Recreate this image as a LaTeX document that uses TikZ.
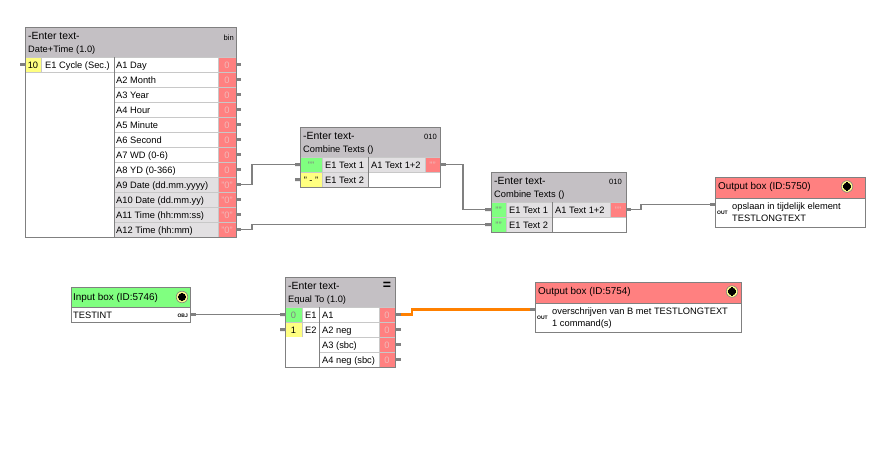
\documentclass[tikz,border=0pt]{standalone}
\usepackage{fontspec}
\setmainfont{Liberation Sans}

\definecolor{hdrgray}{RGB}{196,192,196}
\definecolor{valred}{RGB}{255,128,128}
\definecolor{valtext}{RGB}{240,186,186}
\definecolor{ingreen}{RGB}{128,255,128}
\definecolor{inyellow}{RGB}{255,255,128}
\definecolor{dotgray}{RGB}{226,224,226}
\definecolor{framegray}{RGB}{128,128,128}
\definecolor{gridgray}{RGB}{200,200,200}
\definecolor{wireorange}{RGB}{255,128,0}
\definecolor{iconyellow}{RGB}{255,255,140}

\newcommand{\cellfont}{\fontsize{9.3}{11}\selectfont}
\newcommand{\titlefont}{\fontsize{10.4}{12}\selectfont}
\newcommand{\boxfont}{\fontsize{9.9}{12}\selectfont}
\newcommand{\tagfont}{\fontsize{7.6}{9}\selectfont}
\newcommand{\portfont}{\fontsize{5}{6}\bfseries\selectfont}

\tikzset{
    frame/.style={draw=framegray, line width=1pt},
    grid/.style={draw=gridgray, line width=0.8pt},
    wire/.style={draw=framegray, line width=1.3pt},
    hotwire/.style={draw=wireorange, line width=2.8pt},
    stub/.style={fill=framegray},
    txt/.style={anchor=base west, inner sep=0pt, font=\cellfont},
    val/.style={anchor=base, inner sep=0pt, font=\cellfont},
    title/.style={anchor=base west, inner sep=0pt, font=\titlefont},
    boxtitle/.style={anchor=base west, inner sep=0pt, font=\boxfont},
    tag/.style={anchor=base east, inner sep=0pt, font=\tagfont},
    port/.style={anchor=base west, inner sep=0pt, font=\portfont},
}

\begin{document}
\begin{tikzpicture}[x=1pt, y=-1pt]

    % Fix the canvas to the size of the reference
    \fill[white] (0,0) rectangle (890,451);
    \useasboundingbox (0,0) rectangle (890,451);

    % ---------------- Date+Time block ----------------
    % Draw the header and the coloured cells
    \fill[hdrgray] (25,27) rectangle (236,57);
    \fill[inyellow] (25,57) rectangle (41,72);
    \fill[dotgray] (114,177) rectangle (218,237);
    \fill[valred] (218,57) rectangle (236,237);

    % Draw the grid lines and the frame
    \foreach \y in {57,72,...,222} \draw[grid] (114,\y) -- (236,\y);
    \draw[grid] (25,57) -- (114,57) (25,72) -- (114,72);
    \draw[grid] (41,57) -- (41,72) (218,57) -- (218,237);
    \draw[frame] (114,57) -- (114,237);
    \draw[frame] (25,27) rectangle (236,237);

    % Label the header
    \node[title] (dt-title) at (28,39.5) {-Enter text-};
    \node[txt] (dt-sub) at (28,52.5) {Date+Time (1.0)};
    \node[tag] (dt-tag) at (234,40) {bin};

    % Label the input row
    \fill[stub] (20,63) rectangle (25,66);
    \node[val] (dt-e1v) at (33,68.5) {10};
    \node[txt] (dt-e1) at (45,68.5) {E1 Cycle (Sec.)};

    % Label the output rows, their values and stubs
    \foreach \lab/\val [count=\i] in {A1 Day/0, A2 Month/0, A3 Year/0, A4 Hour/0,
        A5 Minute/0, A6 Second/0, A7 WD (0-6)/0, A8 YD (0-366)/0,
        A9 Date (dd.mm.yyyy)/"0", A10 Date (dd.mm.yy)/"0",
        A11 Time (hh:mm:ss)/"0", A12 Time (hh:mm)/"0"} {
        \pgfmathsetmacro{\yb}{57+15*\i-3.5}
        \pgfmathsetmacro{\ym}{57+15*\i-7.5}
        \node[txt] (dt-a\i) at (116,\yb) {\lab};
        \node[val, text=valtext] (dt-v\i) at (227,\yb) {\val};
        \fill[stub] (236,\ym-1.5) rectangle (241,\ym+1.5);
        \coordinate (dt-o\i) at (241,\ym);
    }

    % ---------------- first Combine Texts block ----------------
    \fill[hdrgray] (300,127) rectangle (440,157);
    \fill[ingreen] (300,157) rectangle (322,172);
    \fill[inyellow] (300,172) rectangle (322,187);
    \fill[dotgray] (322,157) rectangle (368,187) (368,157) rectangle (425,172);
    \fill[valred] (425,157) rectangle (440,172);
    \draw[grid] (300,157) -- (440,157) (300,172) -- (440,172);
    \draw[grid] (322,157) -- (322,187) (425,157) -- (425,172);
    \draw[frame] (368,157) -- (368,187);
    \draw[frame] (300,127) rectangle (440,187);

    \node[title] (ct1-title) at (303,139.5) {-Enter text-};
    \node[txt] (ct1-sub) at (303,152.5) {Combine Texts ()};
    \node[tag] (ct1-tag) at (437,139.5) {010};
    \node[val, text=framegray] (ct1-e1v) at (311,168.5) {""};
    \node[val] (ct1-e2v) at (311,183.5) {" - "};
    \node[txt] (ct1-e1) at (325,168.5) {E1 Text 1};
    \node[txt] (ct1-e2) at (325,183.5) {E1 Text 2};
    \node[txt] (ct1-a1) at (371,168.5) {A1 Text 1+2};
    \node[val, text=valtext] (ct1-a1v) at (432.5,168.5) {""};

    \fill[stub] (295,163) rectangle (300,166) (295,178) rectangle (300,181);
    \fill[stub] (440,163) rectangle (446,166);
    \coordinate (ct1-i1) at (295,164.5);
    \coordinate (ct1-i2) at (295,179.5);
    \coordinate (ct1-o1) at (446,164.5);

    % ---------------- second Combine Texts block ----------------
    \fill[hdrgray] (491,172) rectangle (626,202);
    \fill[ingreen] (491,202) rectangle (506,232);
    \fill[dotgray] (506,202) rectangle (552,232) (552,202) rectangle (610,217);
    \fill[valred] (610,202) rectangle (626,217);
    \draw[grid] (491,202) -- (626,202) (491,217) -- (626,217);
    \draw[grid] (506,202) -- (506,232) (610,202) -- (610,217);
    \draw[frame] (552,202) -- (552,232);
    \draw[frame] (491,172) rectangle (626,232);

    \node[title] (ct2-title) at (494,184.5) {-Enter text-};
    \node[txt] (ct2-sub) at (494,197.5) {Combine Texts ()};
    \node[tag] (ct2-tag) at (622,184.5) {010};
    \node[val, text=framegray] (ct2-e1v) at (498.5,213.5) {""};
    \node[val, text=framegray] (ct2-e2v) at (498.5,228.5) {""};
    \node[txt] (ct2-e1) at (509,213.5) {E1 Text 1};
    \node[txt] (ct2-e2) at (509,228.5) {E1 Text 2};
    \node[txt] (ct2-a1) at (555,213.5) {A1 Text 1+2};
    \node[val, text=valtext] (ct2-a1v) at (618,213.5) {""};

    \fill[stub] (485,208) rectangle (491,211) (485,223) rectangle (491,226);
    \fill[stub] (626,208) rectangle (631,211);
    \coordinate (ct2-i1) at (485,209.5);
    \coordinate (ct2-i2) at (485,224.5);
    \coordinate (ct2-o1) at (631,209.5);

    % ---------------- Output box 5750 ----------------
    \fill[valred] (715,177) rectangle (865,198);
    \draw[frame] (715,177) rectangle (865,227) (715,198) -- (865,198);
    \node[boxtitle] (ob1-title) at (718,189.5) {Output box (ID:5750)};
    \coordinate (ob1-icon) at (847,186.5);
    \node[port] (ob1-port) at (717,214.5) {OUT};
    \node[txt] (ob1-l1) at (732,209.3) {opslaan in tijdelijk element};
    \node[txt] (ob1-l2) at (732,221.5) {TESTLONGTEXT};
    \fill[stub] (710,203) rectangle (715,206);
    \coordinate (ob1-in) at (710,204.5);

    % ---------------- Input box 5746 ----------------
    \fill[ingreen] (71,287) rectangle (190,307);
    \draw[frame] (71,287) rectangle (190,322) (71,307) -- (190,307);
    \node[boxtitle] (ib-title) at (73,300) {Input box (ID:5746)};
    \coordinate (ib-icon) at (182,297);
    \node[txt] (ib-l1) at (73,318.5) {TESTINT};
    \node[port, anchor=base east] (ib-port) at (188,317.5) {OBJ};
    \fill[stub] (190,313) rectangle (196,316);
    \coordinate (ib-out) at (196,314.5);

    % ---------------- Equal To block ----------------
    \fill[hdrgray] (285,277) rectangle (395,307);
    \fill[ingreen] (285,307) rectangle (302,322);
    \fill[inyellow] (285,322) rectangle (302,337);
    \fill[valred] (379,307) rectangle (395,367);
    \draw[grid] (285,307) -- (395,307) (285,322) -- (395,322);
    \draw[grid] (319,337) -- (395,337) (319,352) -- (395,352);
    \draw[grid] (302,307) -- (302,337) (379,307) -- (379,367);
    \draw[frame] (319,307) -- (319,367);
    \draw[frame] (285,277) rectangle (395,367);

    \node[title] (eq-title) at (288,289.5) {-Enter text-};
    \node[txt] (eq-sub) at (288,302.5) {Equal To (1.0)};
    \node[inner sep=0pt, font=\fontsize{14}{14}\bfseries\selectfont] (eq-tag) at (387,285.5) {=};
    \node[val, text=framegray] (eq-e1v) at (293.5,318.5) {0};
    \node[val] (eq-e2v) at (293.5,333.5) {1};
    \node[txt] (eq-e1) at (305,318.5) {E1};
    \node[txt] (eq-e2) at (305,333.5) {E2};
    \fill[stub] (280,313) rectangle (285,316) (280,328) rectangle (285,331);
    \coordinate (eq-i1) at (280,314.5);
    \coordinate (eq-i2) at (280,329.5);

    \foreach \lab [count=\i] in {A1, A2 neg, A3 (sbc), A4 neg (sbc)} {
        \pgfmathsetmacro{\yb}{307+15*\i-3.5}
        \pgfmathsetmacro{\ym}{307+15*\i-7.5}
        \node[txt] (eq-a\i) at (322,\yb) {\lab};
        \node[val, text=valtext] (eq-v\i) at (387,\yb) {0};
        \fill[stub] (395,\ym-1.5) rectangle (401,\ym+1.5);
        \coordinate (eq-o\i) at (401,\ym);
    }

    % ---------------- Output box 5754 ----------------
    \fill[valred] (535,282) rectangle (741,303);
    \draw[frame] (535,282) rectangle (741,332) (535,303) -- (741,303);
    \node[boxtitle] (ob2-title) at (538,294.5) {Output box (ID:5754)};
    \coordinate (ob2-icon) at (732,291.5);
    \node[port] (ob2-port) at (537,319.5) {OUT};
    \node[txt] (ob2-l1) at (552,314.3) {overschrijven van B met TESTLONGTEXT};
    \node[txt] (ob2-l2) at (552,326.7) {1 command(s)};
    \fill[stub] (530,308) rectangle (535,311);
    \coordinate (ob2-in) at (530,309.5);

    % Draw the plus icons of the boxes
    \foreach \c in {ob1-icon, ob2-icon, ib-icon} {
        \filldraw[fill=iconyellow, draw=framegray, line width=0.6pt] (\c) circle (5.8pt);
        \fill (\c) circle (3.9pt);
        \draw[line width=2.2pt] ([xshift=-4.4pt]\c) -- ([xshift=4.4pt]\c)
            ([yshift=-4.4pt]\c) -- ([yshift=4.4pt]\c);
    }

    % Draw the connectors
    \draw[wire] (dt-o9) -- ++(11,0) |- (ct1-i1);
    \draw[wire] (dt-o12) -- ++(11,0) |- (ct2-i2);
    \draw[wire] (ct1-o1) -- ++(17,0) |- (ct2-i1);
    \draw[wire] (ct2-o1) -- ++(10,0) |- (ob1-in);
    \draw[wire] (ib-out) -- (eq-i1);
    \draw[hotwire] (eq-o1) -- ++(11,0) |- (ob2-in);

\end{tikzpicture}
\end{document}
